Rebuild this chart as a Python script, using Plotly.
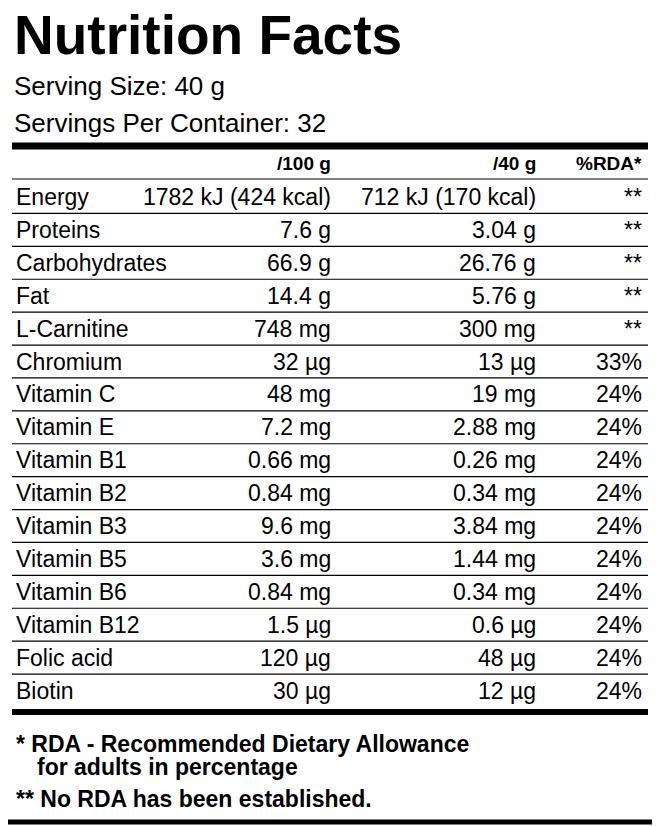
import plotly.graph_objects as go

nutrients = ["Energy","Proteins","Carbohydrates","Fat","L-Carnitine","Chromium","Vitamin C","Vitamin E",
             "Vitamin B1","Vitamin B2","Vitamin B3","Vitamin B5","Vitamin B6","Vitamin B12","Folic acid","Biotin"]
per100 = ["1782 kJ (424 kcal)","7.6 g","66.9 g","14.4 g","748 mg","32 µg","48 mg","7.2 mg",
          "0.66 mg","0.84 mg","9.6 mg","3.6 mg","0.84 mg","1.5 µg","120 µg","30 µg"]
per40 = ["712 kJ (170 kcal)","3.04 g","26.76 g","5.76 g","300 mg","13 µg","19 mg","2.88 mg",
         "0.26 mg","0.34 mg","3.84 mg","1.44 mg","0.34 mg","0.6 µg","48 µg","12 µg"]
rda = ["**","**","**","**","**","33%","24%","24%","24%","24%","24%","24%","24%","24%","24%","24%"]
headers = ["/100 g","/40 g","%RDA*"]

F = "Liberation Sans, Arial, sans-serif"
fig = go.Figure()
ann = []
shapes = []
def t(x, y, s, size=23, bold=False, anchor="left"):
    ann.append(dict(x=x, y=y, text=f"<b>{s}</b>" if bold else s, showarrow=False, xanchor=anchor,
                    yanchor="middle", font=dict(family=F, size=size, color="black")))
def hl(y, w):
    shapes.append(dict(type="line", x0=12, x1=648, y0=y, y1=y, line=dict(color="black", width=w)))

shapes.append(dict(type="rect", x0=3, x1=656, y0=3, y1=822, line=dict(color="black", width=5)))
t(12, 35, "Nutrition Facts", size=55, bold=True)
t(12, 86, "Serving Size: 40 g", size=26)
t(12, 123, "Servings Per Container: 32", size=26)
hl(146, 7)
for x, h in zip([333, 538, 644], headers):
    t(x, 163, h, size=19, bold=True, anchor="right")
hl(179, 1.2)
y0, dy = 197, 32.9
for i, n in enumerate(nutrients):
    y = y0 + i*dy
    t(14, y, n)
    t(333, y, per100[i], anchor="right")
    t(538, y, per40[i], anchor="right")
    t(644, y, rda[i], anchor="right")
    if i < len(nutrients)-1:
        hl(y + dy/2, 1.2)
hl(712, 6)
t(14, 744, "* RDA - Recommended Dietary Allowance", size=23, bold=True)
t(35, 767, "for adults in percentage", size=23, bold=True)
t(14, 799, "** No RDA has been established.", size=23, bold=True)

fig.update_layout(width=660, height=826, margin=dict(l=0, r=0, t=0, b=0),
                  plot_bgcolor="white", paper_bgcolor="white", annotations=ann, shapes=shapes,
                  xaxis=dict(range=[8, 668], visible=False), yaxis=dict(range=[834, 8], visible=False),
                  showlegend=False)
fig.write_html("out.html")
